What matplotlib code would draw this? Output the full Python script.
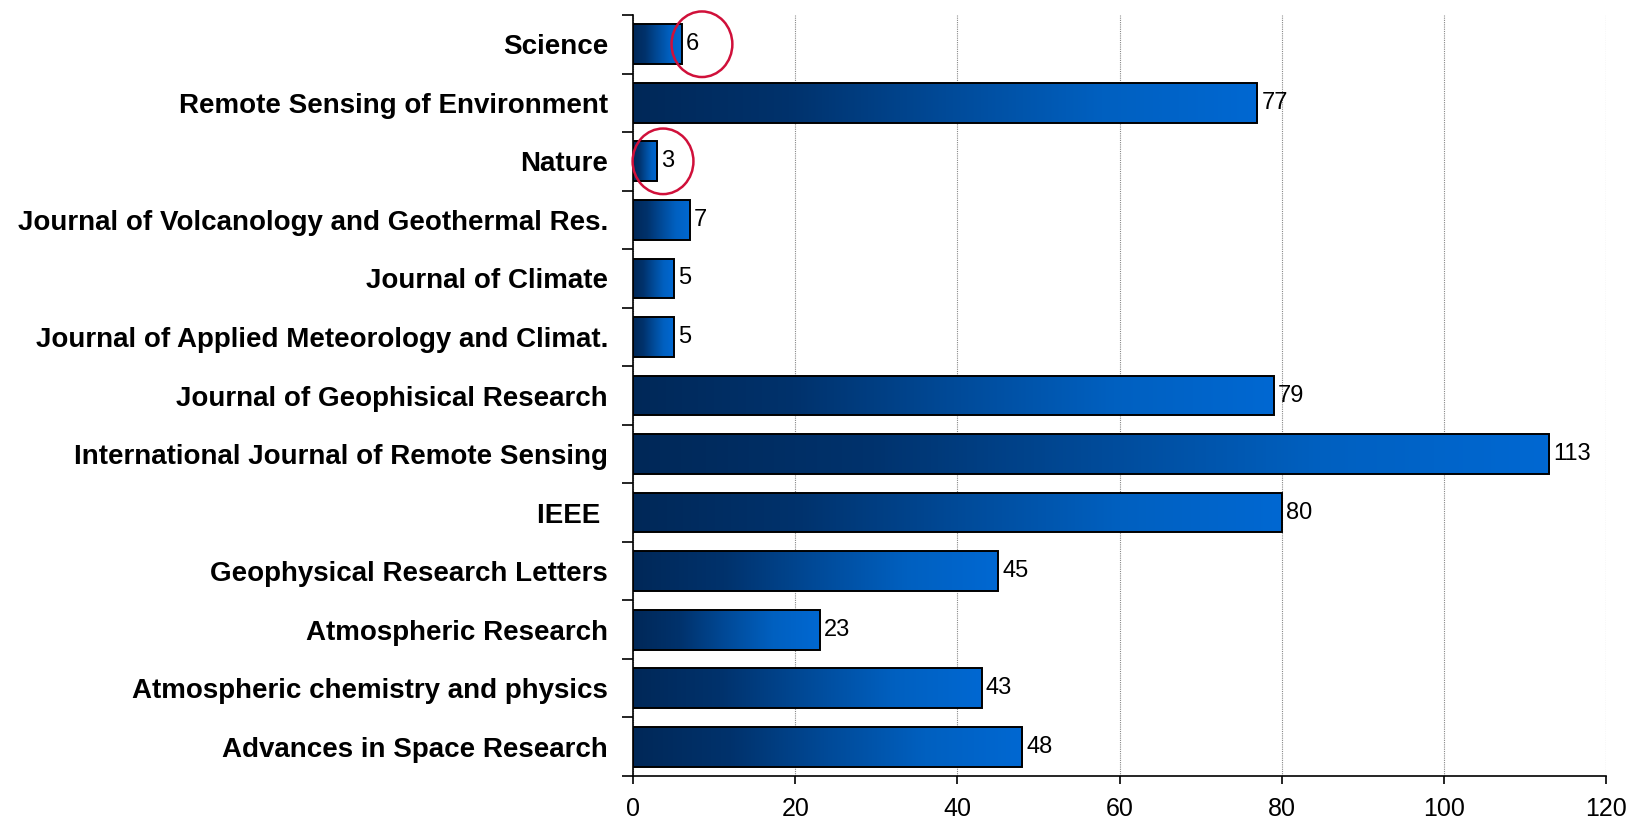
import matplotlib.pyplot as plt
import numpy as np
from matplotlib.colors import LinearSegmentedColormap
from matplotlib.patches import Ellipse

# Data (top to bottom)
journals = ['Science', 'Remote Sensing of Environment', 'Nature',
            'Journal of Volcanology and Geothermal Res.', 'Journal of Climate',
            'Journal of Applied Meteorology and Climat.', 'Journal of Geophisical Research',
            'International Journal of Remote Sensing', 'IEEE ',
            'Geophysical Research Letters', 'Atmospheric Research',
            'Atmospheric chemistry and physics', 'Advances in Space Research']
counts = [6, 77, 3, 7, 5, 5, 79, 113, 80, 45, 23, 43, 48]
highlighted = ['Science', 'Nature']
x_ticks = [0, 20, 40, 60, 80, 100, 120]

# hand-drawn circles sit a bit right of the bar end (data units)
circle_dx = {'Science': 2.5, 'Nature': 0.7}

plt.rcParams['font.family'] = ['Liberation Sans', 'DejaVu Sans']

fig = plt.figure(figsize=(16.37, 8.18), dpi=100)
ax = fig.add_axes([0.3867, 0.0513, 0.5944, 0.9304])

ypos = np.arange(len(journals))
bars = ax.barh(ypos, counts, height=0.68, color='none', edgecolor='black',
               linewidth=1.4, zorder=3)

# gradient fill: dark navy on the left to bright blue on the right of every bar
cmap = LinearSegmentedColormap.from_list('bluegrad', ['#012858', '#00326c', '#004a98', '#0060c0', '#0068d2'])
grad = np.linspace(0, 1, 256).reshape(1, -1)
for bar in bars:
    x0, y0 = bar.get_x(), bar.get_y()
    w, h = bar.get_width(), bar.get_height()
    im = ax.imshow(grad, cmap=cmap, aspect='auto', extent=[x0, x0 + w, y0 + h, y0],
                   zorder=2, interpolation='bilinear')
    im.set_clip_path(bar)

# value labels
for y, v in zip(ypos, counts):
    ax.annotate(str(v), (v, y), xytext=(3, 0), textcoords='offset points',
                va='center', ha='left', fontsize=17, zorder=4)

ax.set_xlim(0, 120)
ax.set_ylim(len(journals) - 0.5, -0.5)

# red circles around the small values
for name in highlighted:
    i = journals.index(name)
    ax.add_patch(Ellipse((counts[i] + circle_dx[name], i), width=7.5, height=1.12, fill=False,
                         edgecolor='#d0103a', linewidth=1.8, zorder=5, clip_on=False))

ax.set_yticks(ypos)
ax.set_yticklabels(journals, fontsize=20, fontweight='bold')
ax.set_yticks(np.arange(-0.5, len(journals), 1), minor=True)
ax.tick_params(axis='y', which='major', length=0, pad=18)
ax.tick_params(axis='y', which='minor', length=8, width=1.2)

ax.set_xticks(x_ticks)
ax.tick_params(axis='x', which='major', length=6, width=1.2, direction='out', pad=9, labelsize=18)

ax.grid(axis='x', color='#888888', linestyle=(0, (1, 1)), linewidth=0.8, zorder=0)
ax.set_axisbelow(True)

for s in ['top', 'right']:
    ax.spines[s].set_visible(False)
ax.spines['left'].set_linewidth(1.2)
ax.spines['bottom'].set_linewidth(1.2)

plt.savefig('out.png', dpi=100)
plt.close()
